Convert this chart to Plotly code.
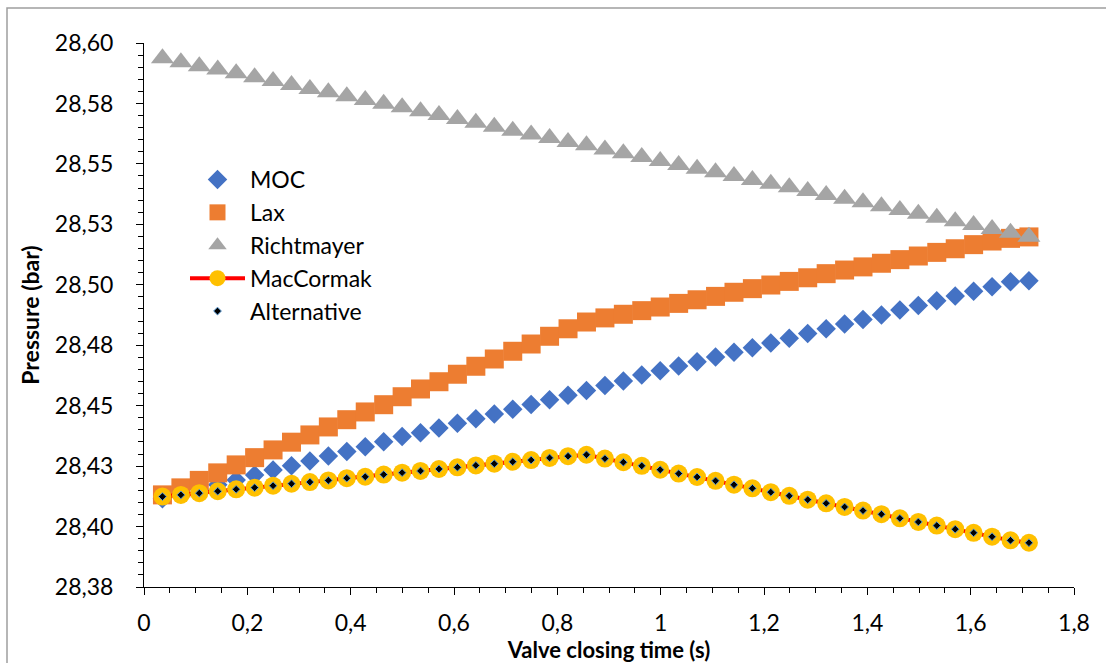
import plotly.graph_objects as go

# ---- data ----
time_s = [0.0357, 0.0714, 0.1070, 0.1427, 0.1784, 0.2141, 0.2498, 0.2855, 0.3211, 0.3568,
          0.3925, 0.4282, 0.4639, 0.4996, 0.5352, 0.5709, 0.6066, 0.6423, 0.6780, 0.7137,
          0.7493, 0.7850, 0.8207, 0.8564, 0.8921, 0.9278, 0.9634, 0.9991, 1.0348, 1.0705,
          1.1062, 1.1419, 1.1775, 1.2132, 1.2489, 1.2846, 1.3203, 1.3560, 1.3916, 1.4273,
          1.4630, 1.4987, 1.5344, 1.5701, 1.6057, 1.6414, 1.6771, 1.7128]

moc = [28.4115, 28.4135, 28.4154, 28.4173, 28.4193, 28.4213, 28.4234, 28.4252, 28.4271, 28.4292,
       28.4310, 28.4330, 28.4351, 28.4372, 28.4388, 28.4408, 28.4427, 28.4446, 28.4466, 28.4485,
       28.4505, 28.4524, 28.4543, 28.4563, 28.4583, 28.4602, 28.4627, 28.4644, 28.4664, 28.4682,
       28.4701, 28.4721, 28.4740, 28.4759, 28.4779, 28.4798, 28.4818, 28.4838, 28.4856, 28.4875,
       28.4896, 28.4914, 28.4934, 28.4954, 28.4973, 28.4992, 28.5013, 28.5017]

lax = [28.4131, 28.4160, 28.4191, 28.4222, 28.4255, 28.4285, 28.4317, 28.4349, 28.4379, 28.4412,
       28.4442, 28.4474, 28.4504, 28.4537, 28.4569, 28.4599, 28.4630, 28.4663, 28.4693, 28.4725,
       28.4755, 28.4787, 28.4818, 28.4846, 28.4863, 28.4878, 28.4893, 28.4908, 28.4923, 28.4938,
       28.4952, 28.4969, 28.4984, 28.4999, 28.5014, 28.5029, 28.5046, 28.5061, 28.5074, 28.5089,
       28.5104, 28.5119, 28.5134, 28.5149, 28.5166, 28.5181, 28.5192, 28.5198]

richtmayer = [28.5937, 28.5920, 28.5904, 28.5890, 28.5875, 28.5858, 28.5843, 28.5826, 28.5810, 28.5796,
              28.5780, 28.5764, 28.5749, 28.5734, 28.5718, 28.5702, 28.5686, 28.5670, 28.5654, 28.5637,
              28.5622, 28.5607, 28.5591, 28.5577, 28.5559, 28.5544, 28.5529, 28.5512, 28.5495, 28.5480,
              28.5465, 28.5450, 28.5433, 28.5418, 28.5403, 28.5388, 28.5371, 28.5356, 28.5341, 28.5325,
              28.5309, 28.5294, 28.5277, 28.5263, 28.5247, 28.5231, 28.5215, 28.5199]

maccormak = [28.4124, 28.4131, 28.4138, 28.4146, 28.4154, 28.4161, 28.4169, 28.4177, 28.4184, 28.4191,
             28.4200, 28.4206, 28.4215, 28.4223, 28.4230, 28.4238, 28.4245, 28.4253, 28.4260, 28.4268,
             28.4275, 28.4284, 28.4291, 28.4297, 28.4281, 28.4266, 28.4251, 28.4235, 28.4219, 28.4205,
             28.4189, 28.4173, 28.4158, 28.4142, 28.4127, 28.4111, 28.4096, 28.4081, 28.4066, 28.4051,
             28.4034, 28.4019, 28.4004, 28.3989, 28.3974, 28.3958, 28.3943, 28.3933]

alternative = [28.4124, 28.4131, 28.4138, 28.4146, 28.4154, 28.4161, 28.4169, 28.4177, 28.4184, 28.4191,
               28.4200, 28.4206, 28.4215, 28.4223, 28.4230, 28.4238, 28.4245, 28.4253, 28.4260, 28.4268,
               28.4275, 28.4284, 28.4291, 28.4297, 28.4281, 28.4266, 28.4251, 28.4235, 28.4219, 28.4205,
               28.4189, 28.4173, 28.4158, 28.4142, 28.4127, 28.4111, 28.4096, 28.4081, 28.4066, 28.4051,
               28.4034, 28.4019, 28.4004, 28.3989, 28.3974, 28.3958, 28.3943, 28.3933]

y_tick_vals = [28.375, 28.40, 28.425, 28.45, 28.475, 28.50, 28.525, 28.55, 28.575, 28.60]
y_tick_text = ["28,38", "28,40", "28,43", "28,45", "28,48", "28,50", "28,53", "28,55", "28,58", "28,60"]

FONT = "Lato"

fig = go.Figure()
fig.add_trace(go.Scatter(x=time_s, y=moc, name="MOC", mode="markers",
                         marker=dict(symbol="diamond", size=15, color="#4472C4")))
fig.add_trace(go.Scatter(x=time_s, y=lax, name="Lax", mode="markers",
                         marker=dict(symbol="square", size=19, color="#ED7D31")))
fig.add_trace(go.Scatter(x=time_s, y=richtmayer, name="Richtmayer", mode="markers",
                         marker=dict(symbol="triangle-up", size=20, color="#A5A5A5")))
fig.add_trace(go.Scatter(x=time_s, y=maccormak, name="MacCormak", mode="lines+markers",
                         line=dict(color="#FF0000", width=4),
                         marker=dict(symbol="circle", size=18, color="#FFC000")))
fig.add_trace(go.Scatter(x=time_s, y=alternative, name="Alternative", mode="markers",
                         marker=dict(symbol="diamond", size=6, color="#000000",
                                     line=dict(color="#5B9BD5", width=1))))

L, R, T, B = 144, 32, 43, 76
W, H = 1106, 663
pw, ph = W - L - R, H - T - B

def px_x(p):
    return (p - L) / pw

def px_y(p):
    return (H - B - p) / ph

fig.update_layout(
    width=W, height=H,
    margin=dict(l=L, r=R, t=T, b=B),
    paper_bgcolor="white", plot_bgcolor="white",
    separators=",.",
    font=dict(family=FONT, size=23, color="#000000"),
    showlegend=True,
    legend=dict(x=px_x(185), y=px_y(158), xanchor="left", yanchor="top",
                bgcolor="rgba(0,0,0,0)", font=dict(family=FONT, size=23),
                itemwidth=55, tracegroupgap=0),
    xaxis=dict(range=[0, 1.8], tickmode="linear", tick0=0, dtick=0.2, automargin=False,
               showgrid=False, zeroline=False, showline=True, linecolor="#000000", linewidth=1,
               ticks="outside", ticklen=7, tickcolor="#000000", tickwidth=1,
               minor=dict(tickmode="linear", tick0=0, dtick=0.05, ticks="outside", ticklen=5,
                          tickcolor="#000000", showgrid=False),
               tickfont=dict(family=FONT, size=23),
               ticklabelstandoff=8,
               title=dict(text="<b>Valve closing time (s)</b>", font=dict(family=FONT, size=22), standoff=2)),
    yaxis=dict(range=[28.375, 28.6], tickmode="array", tickvals=y_tick_vals, ticktext=y_tick_text,
               automargin=False,
               showgrid=False, zeroline=False, showline=True, linecolor="#000000", linewidth=1,
               ticks="outside", ticklen=7, tickcolor="#000000", tickwidth=1,
               minor=dict(tickmode="linear", tick0=28.375, dtick=0.005, ticks="outside", ticklen=5,
                          tickcolor="#000000", showgrid=False),
               tickfont=dict(family=FONT, size=23),
               ticklabelstandoff=18,
               title=dict(text="<b>Pressure (bar)</b>", font=dict(family=FONT, size=23), standoff=8)),
    shapes=[dict(type="rect", xref="paper", yref="paper",
                 x0=px_x(7), x1=px_x(1112), y0=px_y(670), y1=px_y(8),
                 line=dict(color="#9E9E9E", width=1.5), fillcolor="rgba(0,0,0,0)", layer="below")],
)

fig.write_html("out.html")
